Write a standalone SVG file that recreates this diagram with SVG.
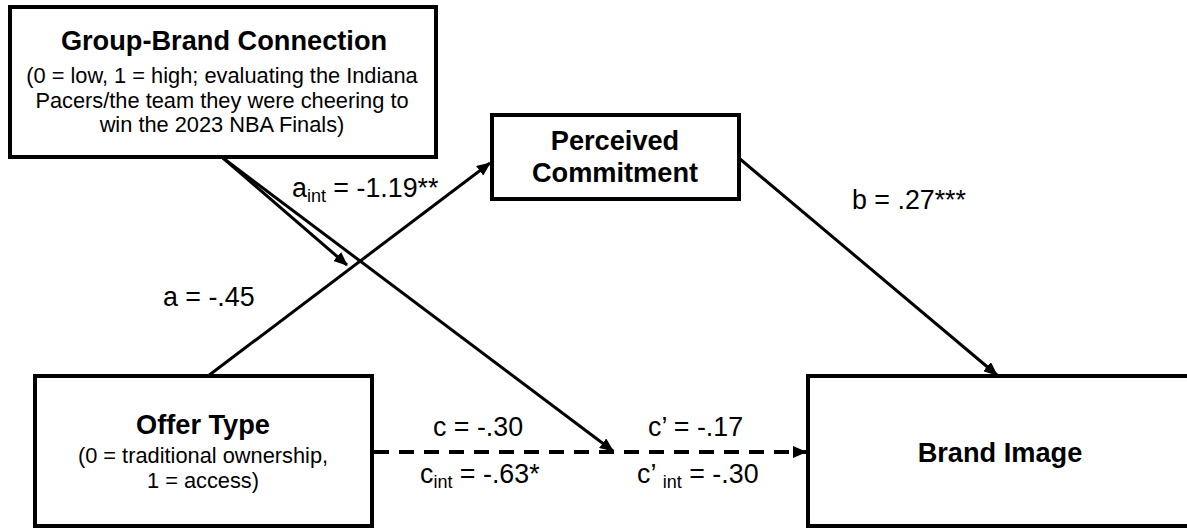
<svg xmlns="http://www.w3.org/2000/svg" width="1187" height="529" viewBox="0 0 1187 529">
<style>
.box{fill:#fff;stroke:#000;stroke-width:4}
.t{font-family:"Liberation Sans",Arial,sans-serif;fill:#000}
.b{font-weight:bold;font-size:27.2px}
.s{font-size:21.8px}
.l{font-size:26.8px}
.sub{font-size:18px}
.ln{stroke:#000;stroke-width:3;fill:none}
.dash{stroke:#000;stroke-width:4;fill:none;stroke-dasharray:15 10}
</style>
<defs>
<marker id="ah" markerUnits="userSpaceOnUse" markerWidth="14" markerHeight="12" refX="13" refY="6" orient="auto">
<path d="M0,0 L14,6 L0,12 z" fill="#000"/>
</marker>
</defs>
<rect width="1187" height="529" fill="#fff"/>
<g id="connectors">
<line class="ln" x1="208" y1="376" x2="490" y2="163" marker-end="url(#ah)"/>
<line class="ln" x1="740" y1="159" x2="997" y2="375" marker-end="url(#ah)"/>
<line class="ln" x1="223" y1="158" x2="613" y2="451" marker-end="url(#ah)"/>
<line class="ln" x1="223" y1="158" x2="347" y2="265" marker-end="url(#ah)"/>
<line class="dash" x1="374" y1="452" x2="806" y2="452" marker-end="url(#ah)"/>
</g>
<g id="group-brand">
<rect class="box" x="10" y="7" width="426" height="150"/>
<text class="t b" x="224" y="50" text-anchor="middle">Group-Brand Connection</text>
<text class="t s" x="222" y="83" text-anchor="middle">(0 = low, 1 = high; evaluating the Indiana</text>
<text class="t s" x="222" y="108" text-anchor="middle">Pacers/the team they were cheering to</text>
<text class="t s" x="222" y="132" text-anchor="middle">win the 2023 NBA Finals)</text>
</g>
<g id="perceived">
<rect class="box" x="492" y="115" width="247" height="84"/>
<text class="t b" x="615" y="150" text-anchor="middle">Perceived</text>
<text class="t b" x="615" y="182" text-anchor="middle">Commitment</text>
</g>
<g id="offer">
<rect class="box" x="35" y="376" width="337" height="150"/>
<text class="t b" x="203" y="434" text-anchor="middle">Offer Type</text>
<text class="t s" x="203" y="463" text-anchor="middle">(0 = traditional ownership,</text>
<text class="t s" x="203" y="488" text-anchor="middle">1 = access)</text>
</g>
<g id="brand-image">
<rect class="box" x="808" y="376" width="400" height="150"/>
<text class="t b" x="1000" y="462" text-anchor="middle">Brand Image</text>
</g>
<g id="labels">
<text class="t l" x="292" y="197">a<tspan class="sub" dy="5">int</tspan><tspan dy="-5"> = -1.19**</tspan></text>
<text class="t l" x="163" y="306">a = -.45</text>
<text class="t l" x="852" y="209">b = .27***</text>
<text class="t l" x="433" y="436">c = -.30</text>
<text class="t l" x="420" y="483">c<tspan class="sub" dy="5">int</tspan><tspan dy="-5"> = -.63*</tspan></text>
<text class="t l" x="648" y="436">c’ = -.17</text>
<text class="t l" x="637" y="483">c’ <tspan class="sub" dy="5">int</tspan><tspan dy="-5"> = -.30</tspan></text>
</g>
</svg>
